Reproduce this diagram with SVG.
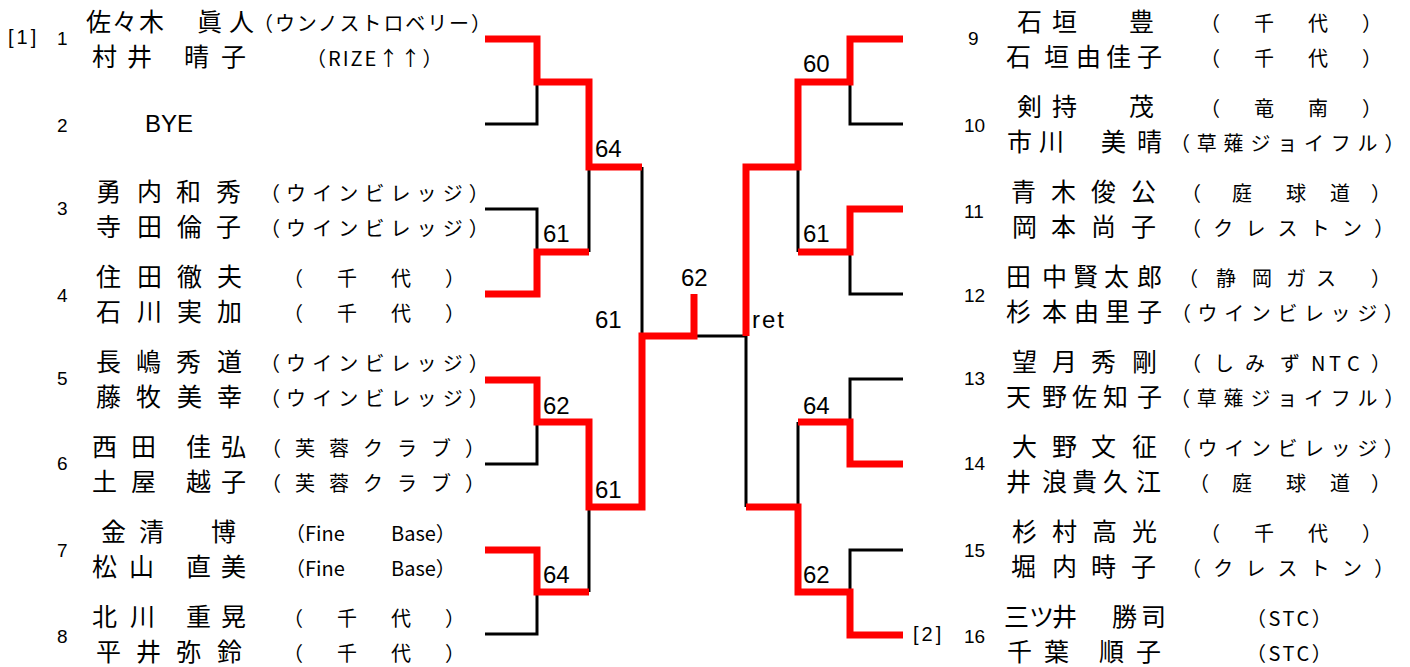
<svg xmlns="http://www.w3.org/2000/svg" width="1410" height="667" viewBox="0 0 1410 667">
<style>
.nm{font-family:"Noto Sans CJK JP",sans-serif;font-size:25px;fill:#000}
.af{font-family:"Noto Sans CJK JP",sans-serif;font-size:20px;fill:#000}
.sd{font-family:"Liberation Sans",sans-serif;font-size:19px;fill:#000}
.br{font-family:"Liberation Sans",sans-serif;font-size:20px;letter-spacing:3px;fill:#000}
.sc{font-family:"Liberation Sans",sans-serif;font-size:24px;fill:#000}
.bk{fill:none;stroke:#000;stroke-width:3}
.rd{fill:none;stroke:#FF0000;stroke-width:7;stroke-linejoin:miter}
</style>
<rect width="1410" height="667" fill="#fff"/>
<g id="connectors">
<path class="bk" d="M485,124H537V82M485,209H537V252M485,464H537V422M485,634H537V592M589,167V252M589,507V592M642,167V336M694,336H746"/>
<path class="bk" d="M903,124H850V82M903,294H850V252M903,379H850V422M903,550H850V592M798,167V252M798,422V507M746,336V507"/>
<path class="rd" d="M485,39H537V82H589V167H642"/>
<path class="rd" d="M485,294H537V252H589"/>
<path class="rd" d="M485,380H537V422H589V507H642V336H694V294"/>
<path class="rd" d="M485,550H537V592H589"/>
<path class="rd" d="M903,39H850V82H798V167H746V336"/>
<path class="rd" d="M903,209H850V252H798"/>
<path class="rd" d="M903,464H850V422H798"/>
<path class="rd" d="M903,635H850V592H798V507H746"/>
</g>
<g id="scores">
<text class="sc" x="595" y="157">64</text>
<text class="sc" x="543" y="242">61</text>
<text class="sc" x="595" y="328">61</text>
<text class="sc" x="681" y="286">62</text>
<text class="sc" x="752" y="328" letter-spacing="2">ret</text>
<text class="sc" x="803" y="72">60</text>
<text class="sc" x="803" y="242">61</text>
<text class="sc" x="543" y="414">62</text>
<text class="sc" x="595" y="498">61</text>
<text class="sc" x="543" y="583">64</text>
<text class="sc" x="803" y="414">64</text>
<text class="sc" x="803" y="583">62</text>
</g>
<g id="entry1">
<text class="br" x="8" y="44">[1]</text>
<text class="sd" x="57" y="45">1</text>
<text class="nm" x="86 112 139 168 197 229" y="31">佐々木　眞人</text>
<text class="nm" x="92 127 156 184 221" y="66">村井　晴子</text>
<text class="af" x="253" y="31" letter-spacing="1.9">（ウンノストロベリー）</text>
<text class="af" x="306" y="66" letter-spacing="2">（RIZE↑↑）</text>
</g>
<g id="entry2">
<text class="sd" x="57" y="132">2</text>
<text class="sc" x="145" y="132">BYE</text>
</g>
<g id="entry3">
<text class="sd" x="57" y="215">3</text>
<text class="nm" x="96 137 176 216" y="201">勇内和秀</text>
<text class="nm" x="96 137 177 216" y="236">寺田倫子</text>
<text class="af" x="260" y="201" letter-spacing="6.1">（ウインビレッジ）</text>
<text class="af" x="260" y="236" letter-spacing="6.1">（ウインビレッジ）</text>
</g>
<g id="entry4">
<text class="sd" x="57" y="302">4</text>
<text class="nm" x="96 137 177 217" y="286">住田徹夫</text>
<text class="nm" x="96 137 177 217" y="321">石川実加</text>
<text class="af" x="283" y="286" letter-spacing="7">（　千　代　）</text>
<text class="af" x="283" y="321" letter-spacing="7">（　千　代　）</text>
</g>
<g id="entry5">
<text class="sd" x="57" y="385">5</text>
<text class="nm" x="96 136 176 217" y="371">長嶋秀道</text>
<text class="nm" x="96 136 177 217" y="406">藤牧美幸</text>
<text class="af" x="260" y="371" letter-spacing="6.1">（ウインビレッジ）</text>
<text class="af" x="260" y="406" letter-spacing="6.1">（ウインビレッジ）</text>
</g>
<g id="entry6">
<text class="sd" x="57" y="470">6</text>
<text class="nm" x="92 131 159 186 221" y="456">西田　佳弘</text>
<text class="nm" x="92 131 159 186 221" y="491">土屋　越子</text>
<text class="af" x="261" y="456" letter-spacing="14">（芙蓉クラブ）</text>
<text class="af" x="261" y="491" letter-spacing="14">（芙蓉クラブ）</text>
</g>
<g id="entry7">
<text class="sd" x="57" y="557">7</text>
<text class="nm" x="101 139 175 211" y="541">金清　博</text>
<text class="nm" x="92 129 158 186 221" y="576">松山　直美</text>
<text class="af" x="285" y="541">（Fine　　<tspan x="391">Base）</tspan></text>
<text class="af" x="285" y="576">（Fine　　<tspan x="391">Base）</tspan></text>
</g>
<g id="entry8">
<text class="sd" x="57" y="643">8</text>
<text class="nm" x="92 130 158 186 221" y="626">北川　重晃</text>
<text class="nm" x="96 136 176 217" y="661">平井弥鈴</text>
<text class="af" x="283" y="626" letter-spacing="7">（　千　代　）</text>
<text class="af" x="283" y="661" letter-spacing="7">（　千　代　）</text>
</g>
<g id="entry9">
<text class="sd" x="968" y="45">9</text>
<text class="nm" x="1017 1052 1090 1129" y="31">石垣　豊</text>
<text class="nm" x="1006 1044 1076 1106 1137" y="66">石垣由佳子</text>
<text class="af" x="1200" y="31" letter-spacing="7">（　千　代　）</text>
<text class="af" x="1200" y="66" letter-spacing="7">（　千　代　）</text>
</g>
<g id="entry10">
<text class="sd" x="964" y="132">10</text>
<text class="nm" x="1017 1052 1090 1129" y="116">剣持　茂</text>
<text class="nm" x="1007 1039 1070 1101 1137" y="151">市川　美晴</text>
<text class="af" x="1200" y="116" letter-spacing="7">（　竜　南　）</text>
<text class="af" x="1170" y="151" letter-spacing="6.8">（草薙ジョイフル）</text>
</g>
<g id="entry11">
<text class="sd" x="964" y="218">11</text>
<text class="nm" x="1011 1051 1091 1131" y="201">青木俊公</text>
<text class="nm" x="1012 1051 1091 1131" y="236">岡本尚子</text>
<text class="af" x="1181 1232 1286 1330 1371" y="201">（庭球道）</text>
<text class="af" x="1181" y="236" letter-spacing="12.2">（クレストン）</text>
</g>
<g id="entry12">
<text class="sd" x="964" y="302">12</text>
<text class="nm" x="1006 1042 1073 1104 1137" y="286">田中賢太郎</text>
<text class="nm" x="1006 1042 1074 1105 1137" y="321">杉本由里子</text>
<text class="af" x="1178 1216 1252 1286 1316 1371" y="286">（静岡ガス）</text>
<text class="af" x="1171" y="321" letter-spacing="6.6">（ウインビレッジ）</text>
</g>
<g id="entry13">
<text class="sd" x="964" y="385">13</text>
<text class="nm" x="1012 1052 1091 1132" y="371">望月秀剛</text>
<text class="nm" x="1006 1042 1072 1103 1137" y="406">天野佐知子</text>
<text class="af" x="1181 1214 1245 1280 1300 1311 1329 1347 1371" y="371">（しみず NTC）</text>
<text class="af" x="1170" y="406" letter-spacing="6.8">（草薙ジョイフル）</text>
</g>
<g id="entry14">
<text class="sd" x="964" y="470">14</text>
<text class="nm" x="1012 1052 1091 1132" y="456">大野文征</text>
<text class="nm" x="1006 1042 1072 1103 1136" y="491">井浪貴久江</text>
<text class="af" x="1171" y="456" letter-spacing="6.6">（ウインビレッジ）</text>
<text class="af" x="1189 1232 1286 1330 1371" y="491">（庭球道）</text>
</g>
<g id="entry15">
<text class="sd" x="964" y="557">15</text>
<text class="nm" x="1012 1052 1092 1132" y="541">杉村高光</text>
<text class="nm" x="1011 1052 1091 1131" y="576">堀内時子</text>
<text class="af" x="1200" y="541" letter-spacing="7">（　千　代　）</text>
<text class="af" x="1181" y="576" letter-spacing="12.2">（クレストン）</text>
</g>
<g id="entry16">
<text class="br" x="913" y="641">[2]</text>
<text class="sd" x="964" y="643">16</text>
<text class="nm" x="1004 1029 1052 1082 1112 1141" y="626">三ツ井　勝司</text>
<text class="nm" x="1007 1044 1071 1099 1136" y="661">千葉　順子</text>
<text class="af" x="1246" y="626" letter-spacing="2.5">（STC）</text>
<text class="af" x="1246" y="661" letter-spacing="2.5">（STC）</text>
</g>
</svg>
